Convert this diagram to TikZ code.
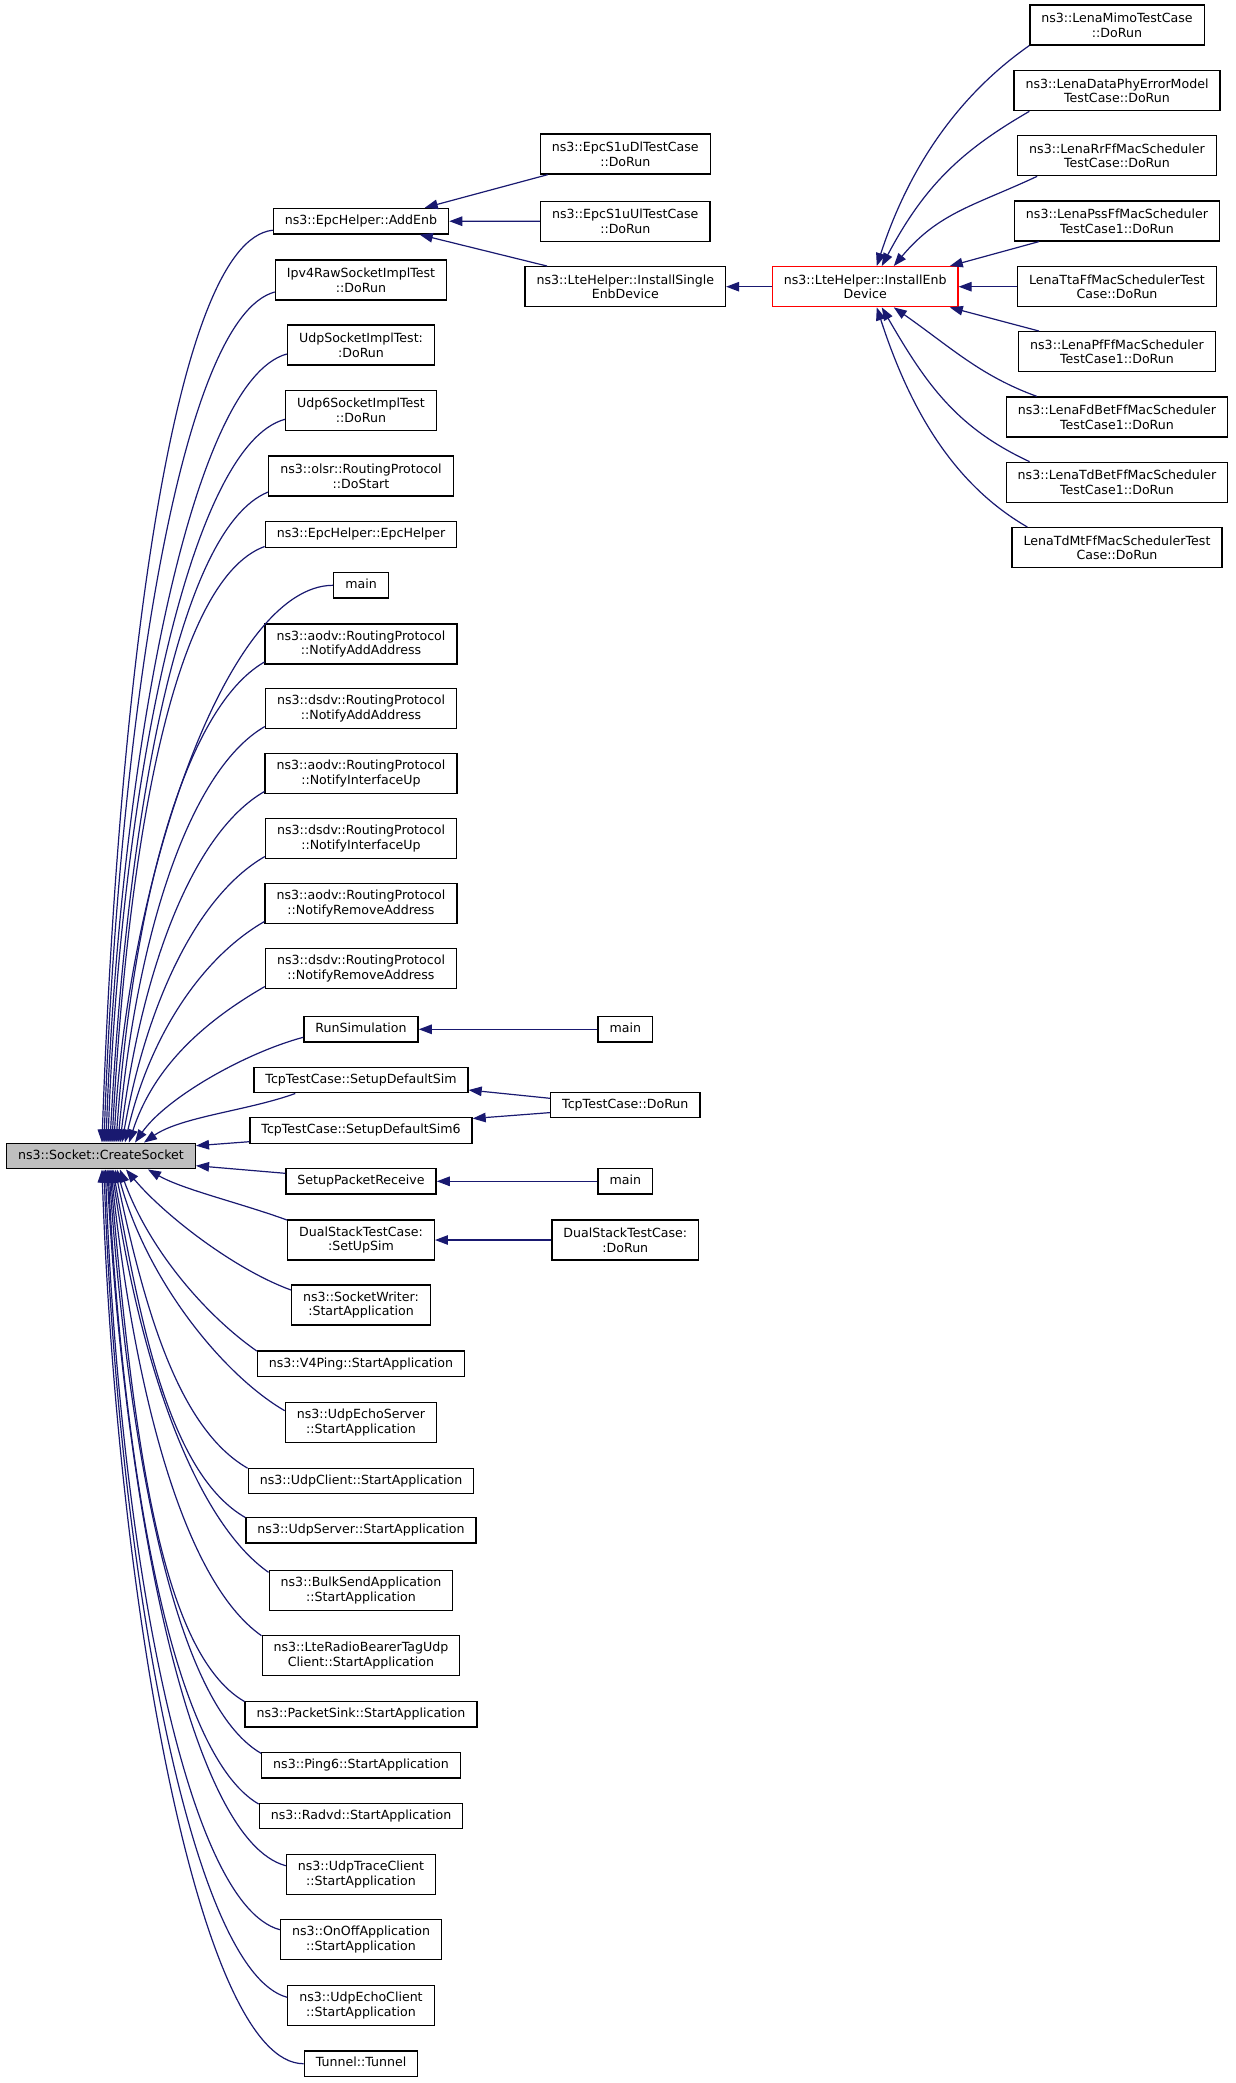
\documentclass[tikz,border=0pt]{standalone}
\usepackage{fontspec}
\newfontfamily\dejavu{DejaVu Sans}
\usetikzlibrary{arrows.meta,calc}
\definecolor{midnight}{RGB}{25,25,112}
\definecolor{greyroot}{RGB}{191,191,191}

\begin{document}
\begin{tikzpicture}
  [x=1pt,y=1pt,
     box/.style={draw=black,
                 fill=white,
                 line width=1.3pt,
                 inner xsep=11.5pt,
                 inner ysep=0pt,
                 font={\dejavu\fontsize{12.6}{14.7}\selectfont}},
     fn/.style={box,
                minimum height=25.6pt,
                text height=9.4pt,
                text depth=3pt},
     fnn/.style={box,
                 minimum height=40pt,
                 align=center},
     edge/.style={draw=midnight,
                  line width=1.2pt,
                  -{Triangle[length=13pt,width=9.5pt]}}
  ]
    \useasboundingbox (0,0) rectangle (1235,-2083);

    % the function itself
    \node[fn,fill=greyroot] (sock) at (101,-1156) {ns3::Socket::CreateSocket};

    % direct callers
    \foreach \nm/\yy/\st/\txt in {
        addenb/221.2/fn/{ns3::EpcHelper::AddEnb},
        ipv4/280/fnn/{Ipv4RawSocketImplTest\\::DoRun},
        udp/345/fnn/{UdpSocketImplTest:\\:DoRun},
        udpsix/410.3/fnn/{Udp6SocketImplTest\\::DoRun},
        olsr/476/fnn/{ns3::olsr::RoutingProtocol\\::DoStart},
        epc/534.5/fn/{ns3::EpcHelper::EpcHelper},
        mainA/585.3/fn/{main},
        aodvadd/644/fnn/{ns3::aodv::RoutingProtocol\\::NotifyAddAddress},
        dsdvadd/708.5/fnn/{ns3::dsdv::RoutingProtocol\\::NotifyAddAddress},
        aodvif/773.5/fnn/{ns3::aodv::RoutingProtocol\\::NotifyInterfaceUp},
        dsdvif/838.5/fnn/{ns3::dsdv::RoutingProtocol\\::NotifyInterfaceUp},
        aodvrm/903.5/fnn/{ns3::aodv::RoutingProtocol\\::NotifyRemoveAddress},
        dsdvrm/968.5/fnn/{ns3::dsdv::RoutingProtocol\\::NotifyRemoveAddress},
        runsim/1029.3/fn/{RunSimulation},
        tcpsim/1080/fn/{TcpTestCase::SetupDefaultSim},
        tcpsimsix/1130.5/fn/{TcpTestCase::SetupDefaultSim6},
        setuppkt/1181.3/fn/{SetupPacketReceive},
        dualsetup/1240/fnn/{DualStackTestCase:\\:SetUpSim},
        sockwriter/1305/fnn/{ns3::SocketWriter:\\:StartApplication},
        vfourping/1363.8/fn/{ns3::V4Ping::StartApplication},
        echoserver/1422.7/fnn/{ns3::UdpEchoServer\\::StartApplication},
        udpclient/1481/fn/{ns3::UdpClient::StartApplication},
        udpserver/1530.3/fn/{ns3::UdpServer::StartApplication},
        bulksend/1590.3/fnn/{ns3::BulkSendApplication\\::StartApplication},
        lteradio/1655.7/fnn/{ns3::LteRadioBearerTagUdp\\Client::StartApplication},
        pktsink/1714.3/fn/{ns3::PacketSink::StartApplication},
        pingsix/1765.3/fn/{ns3::Ping6::StartApplication},
        radvd/1816/fn/{ns3::Radvd::StartApplication},
        udptrace/1874.7/fnn/{ns3::UdpTraceClient\\::StartApplication},
        onoff/1939.7/fnn/{ns3::OnOffApplication\\::StartApplication},
        echoclient/2005.3/fnn/{ns3::UdpEchoClient\\::StartApplication},
        tunnel/2063.7/fn/{Tunnel::Tunnel}}{
      \node[\st] (\nm) at (361,-\yy) {\txt};
    }

    % second level
    \foreach \nm/\yy/\st/\txt in {
        sudl/154/fnn/{ns3::EpcS1uDlTestCase\\::DoRun},
        suul/221.3/fnn/{ns3::EpcS1uUlTestCase\\::DoRun},
        singleenb/286.7/fnn/{ns3::LteHelper::InstallSingle\\EnbDevice},
        mainB/1029.3/fn/{main},
        tcprun/1105/fn/{TcpTestCase::DoRun},
        mainC/1181.3/fn/{main},
        dualrun/1240/fnn/{DualStackTestCase:\\:DoRun}}{
      \node[\st] (\nm) at (625.3,-\yy) {\txt};
    }
    \node[fnn,draw=red] (enbdev) at (865.2,-286.7) {ns3::LteHelper::InstallEnb\\Device};

    % callers of InstallEnbDevice
    \foreach \nm/\yy/\txt in {
        lenamimo/25/{ns3::LenaMimoTestCase\\::DoRun},
        lenadata/90.7/{ns3::LenaDataPhyErrorModel\\TestCase::DoRun},
        lenarr/155.7/{ns3::LenaRrFfMacScheduler\\TestCase::DoRun},
        lenapss/221/{ns3::LenaPssFfMacScheduler\\TestCase1::DoRun},
        lenatta/286.7/{LenaTtaFfMacSchedulerTest\\Case::DoRun},
        lenapf/351.7/{ns3::LenaPfFfMacScheduler\\TestCase1::DoRun},
        lenafdbet/417/{ns3::LenaFdBetFfMacScheduler\\TestCase1::DoRun},
        lenatdbet/482.3/{ns3::LenaTdBetFfMacScheduler\\TestCase1::DoRun},
        lenatdmt/547.7/{LenaTdMtFfMacSchedulerTest\\Case::DoRun}}{
      \node[fnn] (\nm) at (1117,-\yy) {\txt};
    }

    % edges into the root, upper half
    \foreach \nm/\dy/\sx/\tl/\al/\ua/\cl in {
        addenb/9/96/6/103/88/438, ipv4/12/98/15/100/88/408,
        udp/9/100/15/100/88/379, udpsix/9/102/15/100/88/348,
        olsr/16/104/22/100/87/312, epc/12/106/20/100/87/286,
        mainA/0/108/0/105/87/268, aodvadd/18/110/30/95/86/231,
        dsdvadd/18/112/30/90/85/200, aodvif/18/114/30/85/83/169,
        dsdvif/18/116/30/80/80/138, aodvrm/18/119/30/75/77/106,
        dsdvrm/18/123/30/70/72/80, runsim/8/129/15/60/55/55}{
      \draw[edge] ($(\nm.west)+(0,-\dy)$) .. controls +(180+\tl:\al) and +(\ua:\cl) .. ([xshift=\sx]sock.north west);
    }
    \draw[edge] ([xshift=42]tcpsim.south west) .. controls +(200:50) and +(35:45) .. ([xshift=138]sock.north west);
    \draw[edge] ($(tcpsimsix.west)+(0,-11.2)$) -- ($(sock.east)+(0,10.3)$);
    \draw[edge] ($(setuppkt.west)+(0,8)$) -- ($(sock.east)+(0,-9.7)$);

    % edges into the root, lower half
    \foreach \nm/\dy/\sx/\tl/\al/\ua/\cl in {
        dualsetup/20/142/20/50/30/40, sockwriter/15/120/20/60/50/60,
        vfourping/12.8/114/35/60/70/88, echoserver/12/111/30/70/75/116,
        udpclient/12.8/109/30/80/78/144, udpserver/12.8/107/30/85/80/168,
        bulksend/18/106/35/90/82/194, lteradio/20/105/35/95/84/224,
        pktsink/12.8/104/30/100/85/256, pingsix/12/103/30/100/86/280,
        radvd/12/102/30/100/87/305, udptrace/9/101/15/100/87/334,
        onoff/10/99.5/15/100/88/365, echoclient/8/98/15/100/88/397,
        tunnel/0/96/0/105/88/430}{
      \draw[edge] ($(\nm.west)+(0,\dy)$) .. controls +(180-\tl:\al) and +(-\ua:\cl) .. ([xshift=\sx]sock.south west);
    }

    % second level edges
    \draw[edge] ([xshift=8]sudl.south west) -- ([xshift=152]addenb.north west);
    \draw[edge] (suul.west) -- (addenb.east);
    \draw[edge] ([xshift=22.6]singleenb.north west) -- ([xshift=147]addenb.south west);
    \draw[edge] (enbdev.west) -- (singleenb.east);
    \draw[edge] (mainB.west) -- (runsim.east);
    \draw[edge] ($(tcprun.west)+(0,6.7)$) -- ($(tcpsim.east)+(0,-10)$);
    \draw[edge] ($(tcprun.west)+(0,-7.6)$) -- ($(tcpsimsix.east)+(0,12)$);
    \draw[edge] (mainC.west) -- (setuppkt.east);
    \draw[edge] (dualrun.west) -- (dualsetup.east);

    % edges into InstallEnbDevice
    \foreach \nm/\sx/\ang/\al/\ub/\cl/\ex in {
        lenamimo/0/215/90/72/100/105, lenadata/16/210/80/62/90/110,
        lenarr/20/205/70/50/70/122}{
      \draw[edge] ([xshift=\sx]\nm.south west) .. controls +(\ang:\al) and +(\ub:\cl) .. ([xshift=\ex]enbdev.north west);
    }
    \draw[edge] ([xshift=25]lenapss.south west) -- ([xshift=178]enbdev.north west);
    \draw[edge] (lenatta.west) -- (enbdev.east);
    \draw[edge] ([xshift=21]lenapf.north west) -- ([xshift=178]enbdev.south west);
    \foreach \nm/\sx/\ang/\al/\ub/\cl/\ex in {
        lenafdbet/31/160/60/-35/70/122, lenatdbet/24/155/80/-60/90/110,
        lenatdmt/16/150/90/-72/100/105}{
      \draw[edge] ([xshift=\sx]\nm.north west) .. controls +(\ang:\al) and +(\ub:\cl) .. ([xshift=\ex]enbdev.south west);
    }

\end{tikzpicture}
\end{document}
